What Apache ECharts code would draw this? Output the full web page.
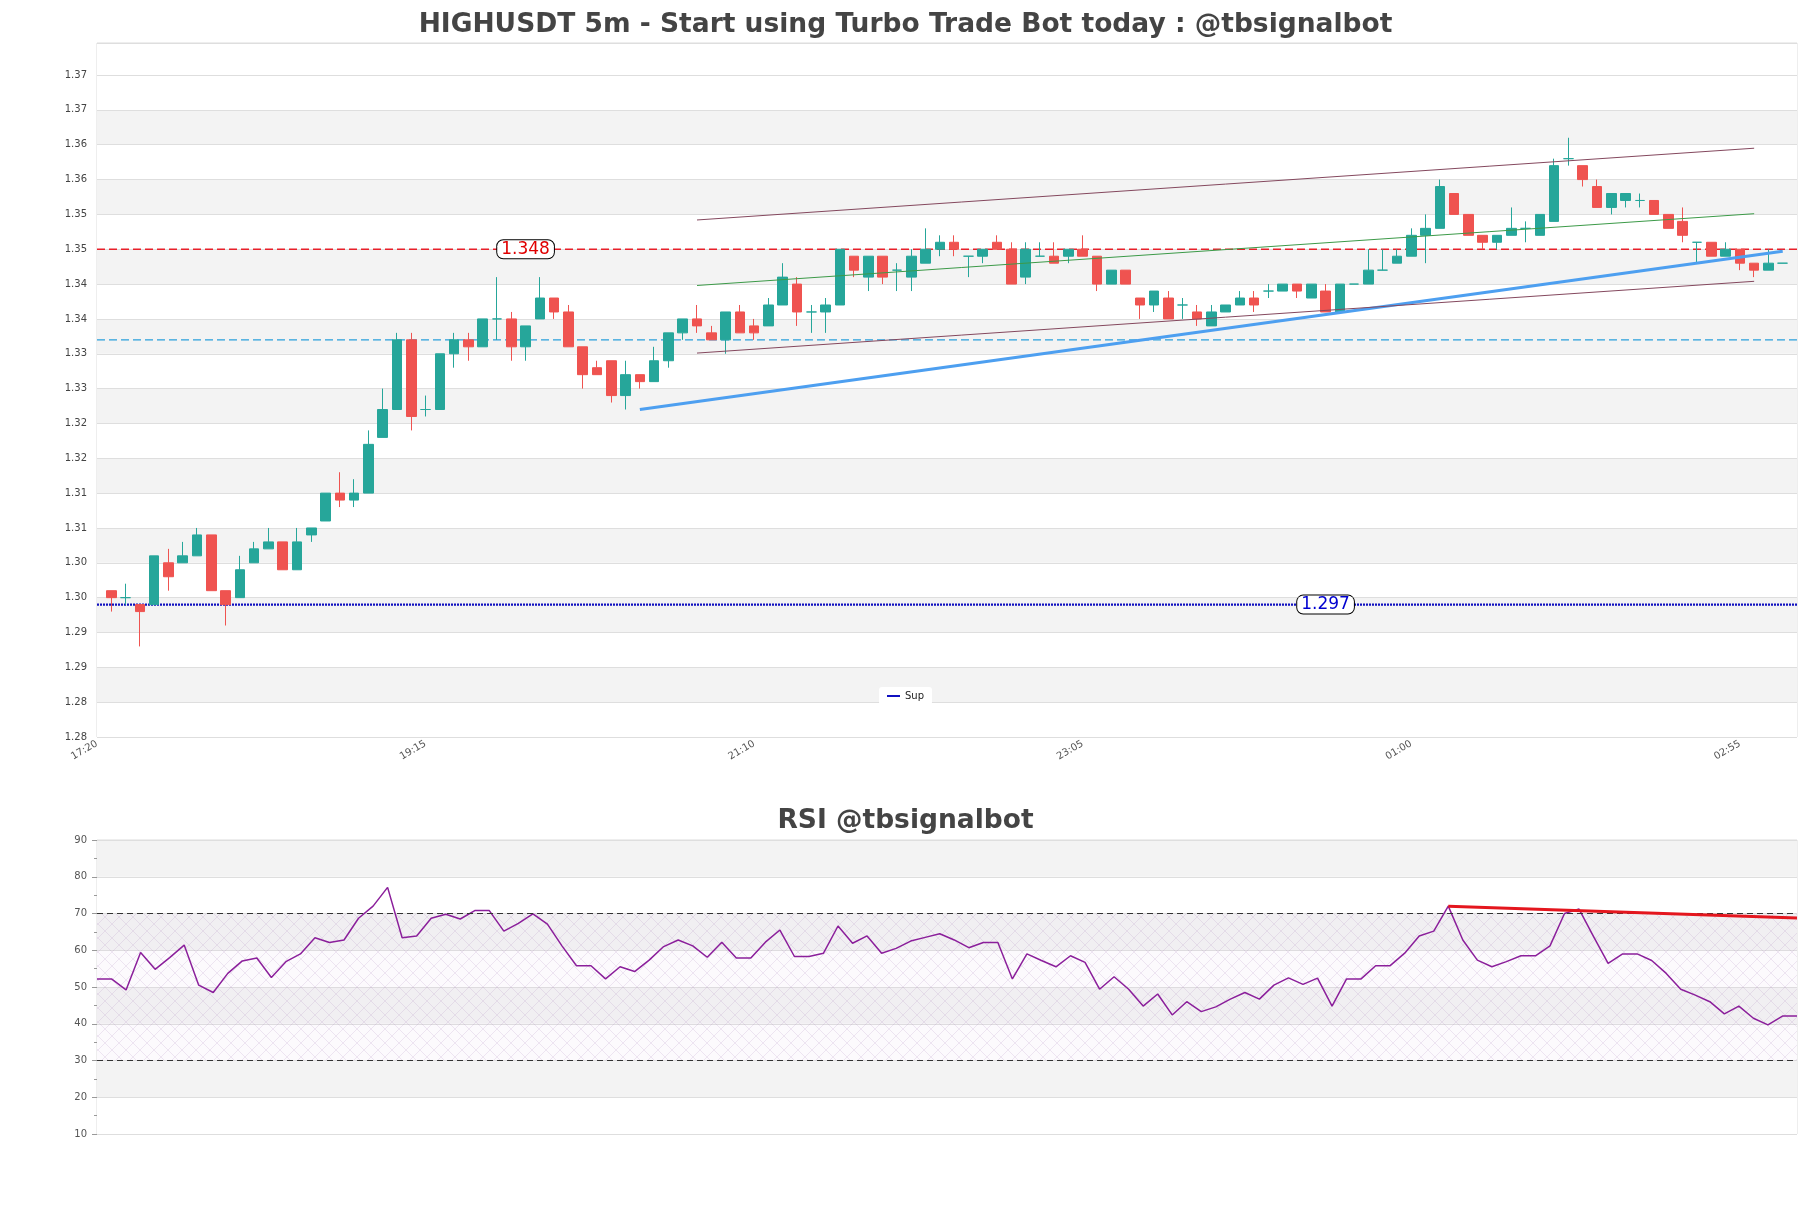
<!DOCTYPE html>
<html>
<head>
<meta charset="utf-8">
<script src="https://cdn.jsdelivr.net/npm/echarts@6/dist/echarts.min.js"></script>
<style>
html,body{margin:0;padding:0;background:#ffffff;}
#chart{width:1811px;height:1208px;}
</style>
</head>
<body>
<div id="chart"></div>
<script>
// ---------------- DATA ----------------
const xTickLabels = ['17:20', '19:15', '21:10', '23:05', '01:00', '02:55'];

const opens = [
  1.299,1.298,1.297,1.297,1.303,1.303,1.304,1.307,1.299,1.298,
  1.303,1.305,1.306,1.302,1.307,1.309,1.313,1.312,1.313,1.321,
  1.325,1.335,1.325,1.325,1.333,1.335,1.334,1.338,1.338,1.334,
  1.338,1.341,1.339,1.334,1.331,1.332,1.327,1.330,1.329,1.332,
  1.336,1.338,1.336,1.335,1.339,1.337,1.337,1.340,1.343,1.339,
  1.339,1.340,1.347,1.344,1.347,1.345,1.344,1.346,1.348,1.349,
  1.347,1.347,1.349,1.348,1.344,1.347,1.347,1.347,1.348,1.347,
  1.343,1.345,1.341,1.340,1.341,1.340,1.339,1.337,1.339,1.340,
  1.341,1.342,1.342,1.343,1.341,1.342,1.339,1.343,1.343,1.345,
  1.346,1.347,1.350,1.351,1.356,1.353,1.350,1.349,1.350,1.351,
  1.350,1.352,1.361,1.360,1.357,1.354,1.355,1.355,1.355,1.353,
  1.352,1.349,1.349,1.347,1.348,1.346,1.345,1.346
];
const highs = [
  1.299,1.300,1.297,1.304,1.305,1.306,1.308,1.307,1.299,1.304,
  1.306,1.308,1.306,1.308,1.308,1.313,1.316,1.315,1.322,1.328,
  1.336,1.336,1.327,1.333,1.336,1.336,1.338,1.344,1.339,1.337,
  1.344,1.341,1.340,1.334,1.332,1.332,1.332,1.330,1.334,1.336,
  1.338,1.340,1.337,1.339,1.340,1.338,1.341,1.346,1.344,1.340,
  1.341,1.348,1.347,1.347,1.347,1.346,1.348,1.351,1.350,1.350,
  1.347,1.348,1.350,1.349,1.349,1.349,1.349,1.348,1.350,1.347,
  1.345,1.345,1.341,1.342,1.342,1.341,1.340,1.340,1.340,1.342,
  1.342,1.343,1.343,1.343,1.343,1.343,1.343,1.343,1.348,1.348,
  1.348,1.351,1.353,1.358,1.356,1.353,1.350,1.350,1.354,1.352,
  1.353,1.361,1.364,1.360,1.358,1.356,1.356,1.356,1.355,1.353,
  1.354,1.349,1.349,1.349,1.348,1.346,1.348,1.346
];
const lows = [
  1.296,1.297,1.291,1.297,1.299,1.303,1.304,1.299,1.294,1.298,
  1.303,1.305,1.302,1.302,1.306,1.309,1.311,1.311,1.313,1.321,
  1.325,1.322,1.324,1.325,1.331,1.332,1.334,1.335,1.332,1.332,
  1.338,1.338,1.334,1.328,1.330,1.326,1.325,1.328,1.329,1.331,
  1.335,1.336,1.335,1.333,1.336,1.335,1.337,1.340,1.337,1.336,
  1.336,1.340,1.344,1.342,1.343,1.342,1.342,1.346,1.347,1.347,
  1.344,1.346,1.348,1.343,1.343,1.347,1.346,1.346,1.347,1.342,
  1.343,1.343,1.338,1.339,1.338,1.338,1.337,1.337,1.339,1.340,
  1.339,1.341,1.342,1.341,1.341,1.339,1.339,1.343,1.343,1.345,
  1.346,1.347,1.346,1.351,1.353,1.350,1.348,1.348,1.350,1.349,
  1.350,1.352,1.360,1.357,1.354,1.353,1.354,1.354,1.353,1.351,
  1.349,1.346,1.347,1.347,1.345,1.344,1.345,1.346
];
const closes = [
  1.298,1.298,1.296,1.304,1.301,1.304,1.307,1.299,1.297,1.302,
  1.305,1.306,1.302,1.306,1.308,1.313,1.312,1.313,1.320,1.325,
  1.335,1.324,1.325,1.333,1.335,1.334,1.338,1.338,1.334,1.337,
  1.341,1.339,1.334,1.330,1.330,1.327,1.330,1.329,1.332,1.336,
  1.338,1.337,1.335,1.339,1.336,1.336,1.340,1.344,1.339,1.339,
  1.340,1.348,1.345,1.347,1.344,1.345,1.347,1.348,1.349,1.348,
  1.347,1.348,1.348,1.343,1.348,1.347,1.346,1.348,1.347,1.343,
  1.345,1.343,1.340,1.342,1.338,1.340,1.338,1.339,1.340,1.341,
  1.340,1.342,1.343,1.342,1.343,1.339,1.343,1.343,1.345,1.345,
  1.347,1.350,1.351,1.357,1.353,1.350,1.349,1.350,1.351,1.351,
  1.353,1.360,1.361,1.358,1.354,1.356,1.356,1.355,1.353,1.351,
  1.350,1.349,1.347,1.348,1.346,1.345,1.346,1.346
];

const rsiValues = [
  52.2,52.2,49.2,59.4,54.8,58.0,61.4,50.5,48.5,53.7,
  57.1,57.9,52.6,56.9,59.0,63.4,62.1,62.8,68.7,72.0,
  77.1,63.4,63.9,68.7,69.8,68.5,70.8,70.8,65.2,67.3,
  69.9,67.1,61.2,55.8,55.8,52.2,55.5,54.2,57.3,61.0,
  62.8,61.2,58.1,62.2,57.9,57.9,62.2,65.5,58.3,58.3,
  59.2,66.6,61.9,63.9,59.2,60.5,62.5,63.5,64.5,62.8,
  60.7,62.1,62.1,52.2,59.0,57.2,55.5,58.5,56.7,49.4,
  52.8,49.4,44.8,48.1,42.4,46.0,43.3,44.6,46.7,48.5,
  46.7,50.5,52.5,50.7,52.4,44.8,52.2,52.2,55.8,55.8,
  59.2,63.9,65.2,72.0,62.8,57.3,55.5,56.9,58.5,58.5,
  61.2,70.0,71.2,63.7,56.4,59.0,59.0,57.2,53.7,49.4,
  47.8,46.0,42.7,44.8,41.5,39.7,42.1,42.1
];

const resistanceLevel = 1.348;
const pivotLevel = 1.335;
const supportLevel = 1.297;
const supportTrend = [[38, 1.3250], [118, 1.3477]];
const channelUpper = [[42, 1.3522], [116, 1.3625]];
const channelMiddle = [[42, 1.3428], [116, 1.3531]];
const channelLower = [[42, 1.3331], [116, 1.3434]];
const rsiTrend = [[93, 72.0], [117, 68.8]];
const rsiOverbought = 70;
const rsiOversold = 30;

// label anchors (x slot) for the level tags
const resistanceTagSlot = 30;
const supportTagSlot = 86;

// ---------------- LAYOUT / STYLE ----------------
const UP = '#26a69a', DOWN = '#ef5350';
const BAND = '#f3f3f3', GRIDLINE = '#dedede';
const FONT = 'DejaVu Sans';
const SLOT_MAX = closes.length + 1;      // empty slot at both ends
const TICK_EVERY = 23;
const Y_MIN = 1.278, Y_MAX = 1.3776, Y_STEP = 0.001, LABEL_EVERY = 5, LAST_LABEL = 95;

const candleData = closes.map((c, i) => {
  const item = { value: [i + 1, opens[i], c, lows[i], highs[i]] };
  if (opens[i] === c) {
    item.itemStyle = { color: UP, color0: UP, borderColor: UP, borderColor0: UP, borderColorDoji: UP };
  }
  return item;
});

const candleTimes = closes.map((_, i) => {
  const m = (17 * 60 + 25 + 5 * i) % (24 * 60);
  return String(Math.floor(m / 60)).padStart(2, '0') + ':' + String(m % 60).padStart(2, '0');
});

const nBands = Math.round((Y_MAX - Y_MIN) / Y_STEP) + 1;
const bandColors = [];
for (let k = 0; k < nBands; k++) {
  bandColors.push(k < LAST_LABEL && Math.floor(k / LABEL_EVERY) % 2 === 1 ? BAND : '#ffffff');
}
const lineColors = [GRIDLINE, 'rgba(0,0,0,0)', 'rgba(0,0,0,0)', 'rgba(0,0,0,0)', 'rgba(0,0,0,0)'];

// hatch pattern for RSI 30-70 zone
const pat = document.createElement('canvas');
pat.width = 14; pat.height = 14;
const pg = pat.getContext('2d');
pg.fillStyle = 'rgba(225,205,235,0.10)';
pg.fillRect(0, 0, 14, 14);
pg.strokeStyle = 'rgba(165,120,185,0.22)';
pg.lineWidth = 0.8;
pg.beginPath();
pg.moveTo(0, 0); pg.lineTo(14, 14);
pg.moveTo(14, 0); pg.lineTo(0, 14);
pg.stroke();

const tagLabel = (color) => ({
  show: true, position: 'inside', color: color, fontSize: 17, fontFamily: FONT,
  backgroundColor: '#ffffff', borderColor: '#000000', borderWidth: 1, borderRadius: 6,
  padding: [1, 4, 0, 4]
});

const levelSeries = (name, level, color, width, dash, z) => ({
  type: 'line', name: name, xAxisIndex: 0, yAxisIndex: 0, color: color,
  data: [[0, level], [SLOT_MAX, level]], showSymbol: false, z: z, silent: true,
  lineStyle: { color: color, width: width, type: dash }
});

const chart = echarts.init(document.getElementById('chart'), null, { renderer: 'canvas' });
const option = {
  animation: false,
  backgroundColor: '#ffffff',
  title: [
    { text: 'HIGHUSDT 5m - Start using Turbo Trade Bot today : @tbsignalbot', left: 'center', top: 7,
      textStyle: { fontSize: 26.5, fontWeight: 'bold', color: '#444444', fontFamily: FONT } },
    { text: 'RSI @tbsignalbot', left: 'center', top: 803,
      textStyle: { fontSize: 26.5, fontWeight: 'bold', color: '#444444', fontFamily: FONT } }
  ],
  legend: {
    data: [{ name: 'Sup', icon: 'rect' }],
    left: 'center', top: 687, itemWidth: 13, itemHeight: 2, itemGap: 5,
    backgroundColor: '#ffffff', borderRadius: 3, padding: [4, 8],
    textStyle: { fontSize: 10, color: '#222', fontFamily: FONT }
  },
  grid: [
    { left: 97, right: 14, top: 43, height: 694, show: true, borderColor: '#dddddd', borderWidth: 1, backgroundColor: '#ffffff', outerBoundsMode: 'none' },
    { left: 97, right: 14, top: 840, height: 294, show: true, borderColor: '#dddddd', borderWidth: 1, backgroundColor: '#ffffff', outerBoundsMode: 'none' }
  ],
  xAxis: [
    { type: 'value', gridIndex: 0, min: 0, max: SLOT_MAX, interval: TICK_EVERY,
      axisLine: { show: false }, axisTick: { show: false }, splitLine: { show: false },
      axisLabel: { rotate: 30, margin: 6, fontSize: 10, color: '#555', fontFamily: FONT,
        formatter: v => (v % TICK_EVERY === 0 && xTickLabels[v / TICK_EVERY] !== undefined) ? xTickLabels[v / TICK_EVERY] : '' } },
    { type: 'category', gridIndex: 1, data: candleTimes, boundaryGap: false,
      axisLine: { show: false }, axisTick: { show: false }, axisLabel: { show: false }, splitLine: { show: false } }
  ],
  yAxis: [
    { type: 'value', gridIndex: 0, min: Y_MIN, max: Y_MAX, interval: Y_STEP,
      axisLine: { show: false }, axisTick: { show: false },
      splitLine: { show: true, lineStyle: { color: lineColors, width: 1 } },
      splitArea: { show: true, areaStyle: { color: bandColors } },
      axisLabel: { margin: 10, fontSize: 10, color: '#444', fontFamily: FONT,
        formatter: v => {
          const k = Math.round((v - Y_MIN) / Y_STEP);
          return (k % LABEL_EVERY === 0 && k <= LAST_LABEL) ? v.toFixed(2) : '';
        } } },
    { type: 'value', gridIndex: 1, min: 10, max: 90, interval: 10,
      axisLine: { show: false },
      axisTick: { show: true, length: 5, lineStyle: { color: '#999' } },
      minorTick: { show: true, splitNumber: 2, length: 3, lineStyle: { color: '#999' } },
      splitLine: { show: true, lineStyle: { color: GRIDLINE } },
      splitArea: { show: true, areaStyle: { color: ['#ffffff', BAND] } },
      axisLabel: { margin: 10, fontSize: 10, color: '#555', fontFamily: FONT } }
  ],
  series: [
    { type: 'candlestick', name: 'HIGHUSDT', xAxisIndex: 0, yAxisIndex: 0,
      data: candleData, barWidth: 10, z: 3,
      itemStyle: { color: UP, color0: DOWN, borderColor: UP, borderColor0: DOWN, borderColorDoji: UP, borderWidth: 1 },
      markPoint: { silent: true, symbol: 'circle', symbolSize: 1, itemStyle: { color: 'rgba(0,0,0,0)' },
        data: [
          { coord: [resistanceTagSlot, resistanceLevel], label: Object.assign(tagLabel('#e00000'), { formatter: String(resistanceLevel) }) },
          { coord: [supportTagSlot, supportLevel], label: Object.assign(tagLabel('#0000d0'), { formatter: String(supportLevel) }) }
        ] } },
    levelSeries('Res', resistanceLevel, '#e8202a', 1.3, [8, 4], 2),
    levelSeries('Pivot', pivotLevel, '#2aa0dc', 1.2, [8, 4], 2),
    levelSeries('Sup', supportLevel, '#1010c0', 2.2, [2, 1], 2),
    { type: 'line', name: 'trend', xAxisIndex: 0, yAxisIndex: 0, data: supportTrend, showSymbol: false, z: 4,
      lineStyle: { color: '#4d9ff0', width: 3 } },
    { type: 'line', name: 'chanUp', xAxisIndex: 0, yAxisIndex: 0, data: channelUpper, showSymbol: false, z: 4,
      lineStyle: { color: '#84485e', width: 1 } },
    { type: 'line', name: 'chanMid', xAxisIndex: 0, yAxisIndex: 0, data: channelMiddle, showSymbol: false, z: 4,
      lineStyle: { color: '#3c9a48', width: 1 } },
    { type: 'line', name: 'chanLow', xAxisIndex: 0, yAxisIndex: 0, data: channelLower, showSymbol: false, z: 4,
      lineStyle: { color: '#84485e', width: 1 } },
    { type: 'line', name: 'RSI', xAxisIndex: 1, yAxisIndex: 1, data: rsiValues, showSymbol: false, z: 4,
      lineStyle: { color: '#8b1f9b', width: 1.5 },
      markLine: { silent: true, symbol: ['none', 'none'], label: { show: false },
        lineStyle: { color: '#333', type: [6, 4], width: 1 },
        data: [{ yAxis: rsiOverbought }, { yAxis: rsiOversold }] },
      markArea: { silent: true, itemStyle: { color: { image: pat, repeat: 'repeat' } },
        data: [[{ yAxis: rsiOversold }, { yAxis: rsiOverbought }]] } },
    { type: 'line', name: 'rsiTrend', xAxisIndex: 1, yAxisIndex: 1, data: rsiTrend, showSymbol: false, z: 5,
      lineStyle: { color: '#e4161e', width: 3 } }
  ]
};
chart.setOption(option);
</script>
</body>
</html>
